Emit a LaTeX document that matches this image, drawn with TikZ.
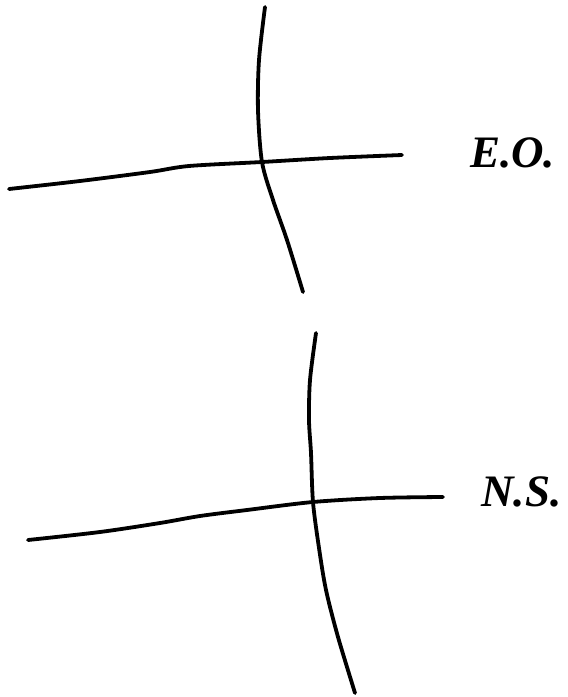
\documentclass[tikz,border=0pt]{standalone}
\usepackage{fontspec}
\setmainfont{Liberation Serif}
\usepackage{tikz}
\usetikzlibrary{positioning}

\begin{document}
\begin{tikzpicture}[
  x=1pt,y=-1pt,
  wire/.style={line width=3.8pt,line cap=round,line join=round},
  tag/.style={inner sep=0pt,anchor=base west,font=\fontsize{45}{45}\selectfont\bfseries\itshape}
]
\useasboundingbox (0,0) rectangle (568,697);
% upper cross
\draw[wire] plot[smooth] coordinates {(265,7) (259,60) (258,110) (262,162) (273,200) (287,240) (303,292)};
\draw[wire] plot[smooth] coordinates {(9,189) (80,181) (150,172) (189,166) (262,162) (330,158) (402,155)};
\node[tag] (eo) at (470,167) {E.O.};
% lower cross
\draw[wire] plot[smooth] coordinates {(316,333) (310,380) (309,420) (311,453) (313,502) (319,548) (326,590) (338,637) (355,693)};
\draw[wire] plot[smooth] coordinates {(28,540) (100,532) (160,523) (200,516) (247,510) (313,502) (380,498) (443,497)};
\node[tag] (ns) at (481,506) {N.\kern1pt S.};
\end{tikzpicture}
\end{document}
